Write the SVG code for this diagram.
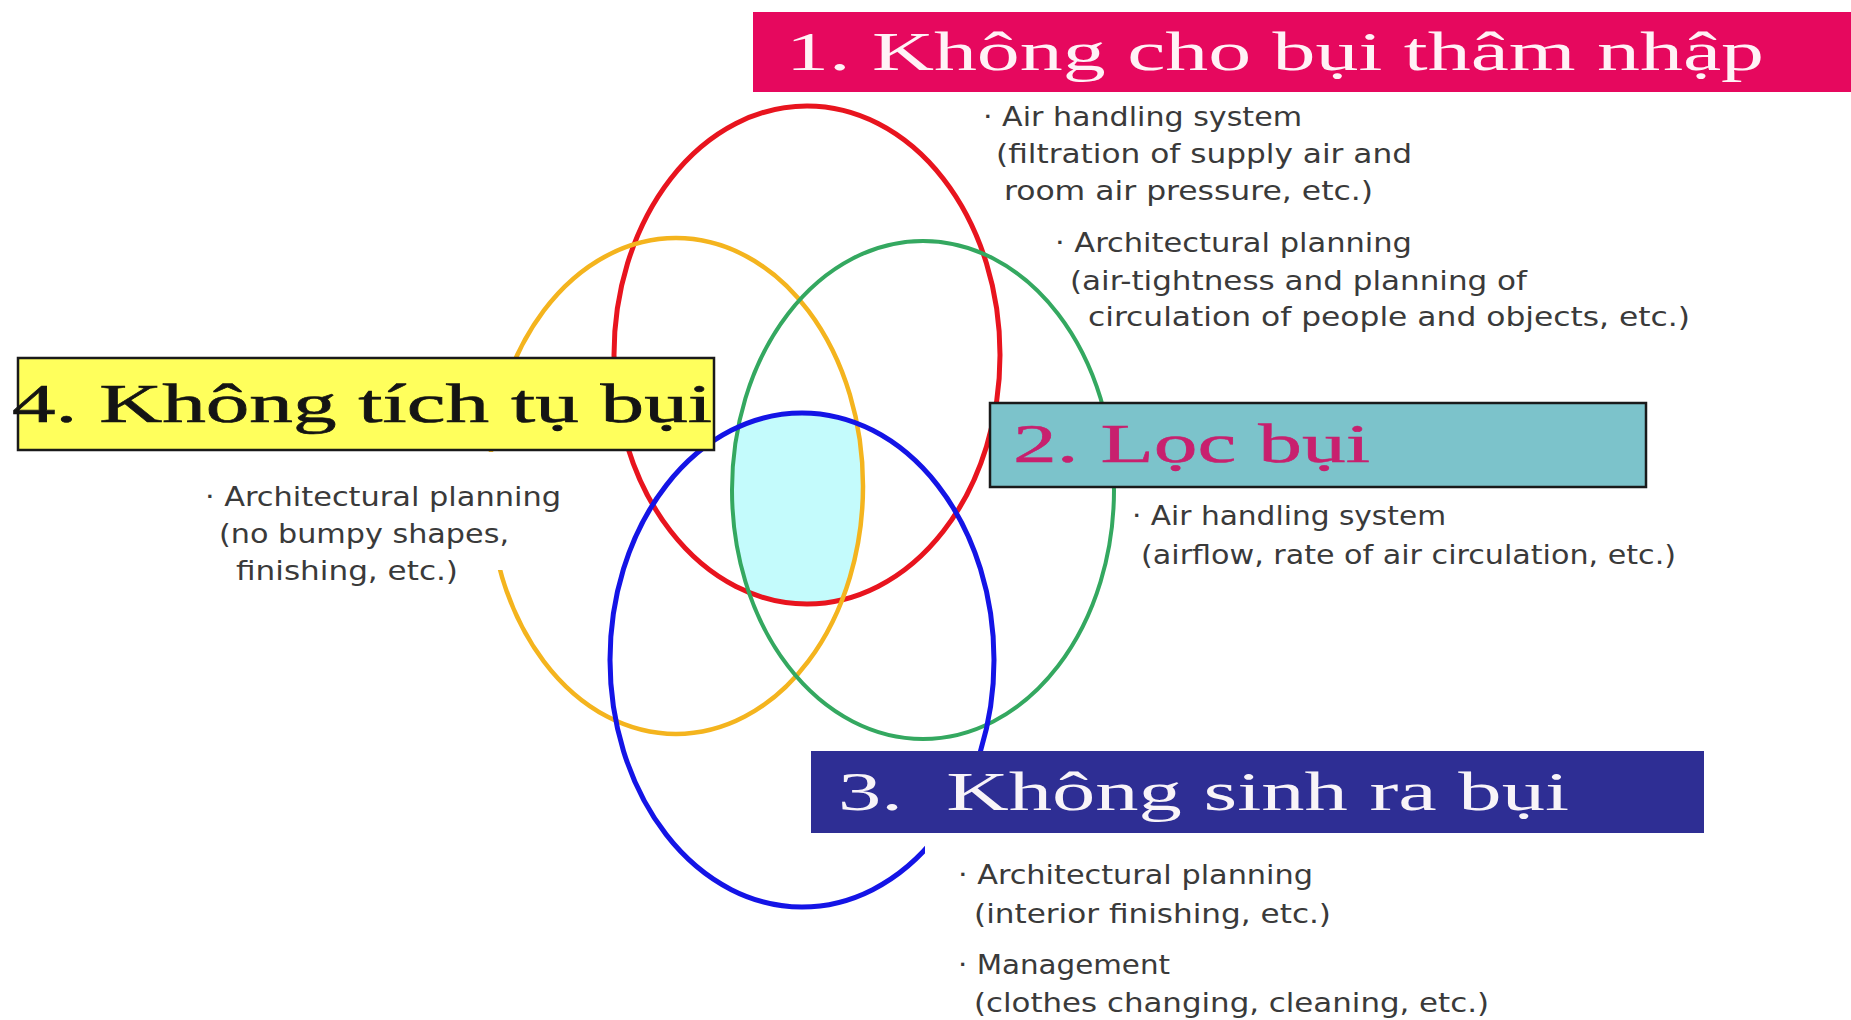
<svg xmlns="http://www.w3.org/2000/svg" width="1851" height="1020" viewBox="0 0 1851 1020">
<style>
.ring{fill:none}
.title{font-family:"Liberation Serif","Times New Roman",serif;font-size:54px}
.note{font-family:"DejaVu Sans Condensed","Liberation Sans Narrow","Liberation Sans",Arial,sans-serif;font-size:27px;fill:#3a3a3a}
.box{stroke:#1a1a1a;stroke-width:2.5}
</style>
<defs>
<clipPath id="cR"><ellipse cx="807" cy="355" rx="193" ry="249"/></clipPath>
<clipPath id="cY"><ellipse cx="676" cy="486" rx="187" ry="248"/></clipPath>
<clipPath id="cG"><ellipse cx="923" cy="490" rx="191" ry="249"/></clipPath>
</defs>
<rect width="1851" height="1020" fill="#ffffff"/>
<g id="overlap" clip-path="url(#cR)"><g clip-path="url(#cY)"><g clip-path="url(#cG)"><ellipse cx="802" cy="660" rx="192" ry="247" fill="#c4fbfc"/></g></g></g>
<g id="connectors">
<ellipse id="ring-red" class="ring" cx="807" cy="355" rx="193" ry="249" stroke="#e8141e" stroke-width="5"/>
<ellipse id="ring-yellow" class="ring" cx="676" cy="486" rx="187" ry="248" stroke="#f4b41e" stroke-width="4.5"/>
<ellipse id="ring-green" class="ring" cx="923" cy="490" rx="191" ry="249" stroke="#34a860" stroke-width="4"/>
<ellipse id="ring-blue" class="ring" cx="802" cy="660" rx="192" ry="247" stroke="#1414e6" stroke-width="5"/>
<rect x="470" y="452" width="60" height="118" fill="#ffffff"/>
<rect x="925" y="832" width="40" height="22" fill="#ffffff"/>
</g>
<g id="node1">
<rect x="753" y="12" width="1098" height="80" fill="#e6085e"/>
<text class="title" x="786" y="70" fill="#fff2f6" font-size="56" textLength="978" lengthAdjust="spacingAndGlyphs">1. Không cho bụi thâm nhập</text>
<text class="note" x="983" y="126" textLength="319" lengthAdjust="spacingAndGlyphs">· Air handling system</text>
<text class="note" x="996" y="163" textLength="416" lengthAdjust="spacingAndGlyphs">(filtration of supply air and</text>
<text class="note" x="1004" y="200" textLength="369" lengthAdjust="spacingAndGlyphs">room air pressure, etc.)</text>
<text class="note" x="1055" y="252" textLength="357" lengthAdjust="spacingAndGlyphs">· Architectural planning</text>
<text class="note" x="1070" y="290" textLength="457" lengthAdjust="spacingAndGlyphs">(air-tightness and planning of</text>
<text class="note" x="1088" y="326" textLength="602" lengthAdjust="spacingAndGlyphs">circulation of people and objects, etc.)</text>
</g>
<g id="node4">
<rect class="box" x="18" y="358" width="696" height="92" fill="#ffff5c"/>
<text class="title" x="12" y="422" fill="#141414" stroke="#141414" stroke-width="0.6" textLength="700" lengthAdjust="spacingAndGlyphs">4. Không tích tụ bụi</text>
<text class="note" x="205" y="506" textLength="356" lengthAdjust="spacingAndGlyphs">· Architectural planning</text>
<text class="note" x="219" y="543" textLength="290" lengthAdjust="spacingAndGlyphs">(no bumpy shapes,</text>
<text class="note" x="236" y="580" textLength="222" lengthAdjust="spacingAndGlyphs">finishing, etc.)</text>
</g>
<g id="node2">
<rect class="box" x="990" y="403" width="656" height="84" fill="#7cc3cb"/>
<text class="title" x="1013" y="462" fill="#c8206e" stroke="#c8206e" stroke-width="0.5" textLength="357" lengthAdjust="spacingAndGlyphs">2. Lọc bụi</text>
<text class="note" x="1132" y="525" textLength="314" lengthAdjust="spacingAndGlyphs">· Air handling system</text>
<text class="note" x="1141" y="564" textLength="535" lengthAdjust="spacingAndGlyphs">(airflow, rate of air circulation, etc.)</text>
</g>
<g id="node3">
<rect x="811" y="751" width="893" height="82" fill="#2e2e94"/>
<text class="title" x="838" y="810" fill="#f8f4f8" textLength="731" lengthAdjust="spacingAndGlyphs" xml:space="preserve">3.  Không sinh ra bụi</text>
<text class="note" x="958" y="884" textLength="355" lengthAdjust="spacingAndGlyphs">· Architectural planning</text>
<text class="note" x="974" y="923" textLength="357" lengthAdjust="spacingAndGlyphs">(interior finishing, etc.)</text>
<text class="note" x="958" y="974" textLength="212" lengthAdjust="spacingAndGlyphs">· Management</text>
<text class="note" x="974" y="1012" textLength="515" lengthAdjust="spacingAndGlyphs">(clothes changing, cleaning, etc.)</text>
</g>
</svg>
